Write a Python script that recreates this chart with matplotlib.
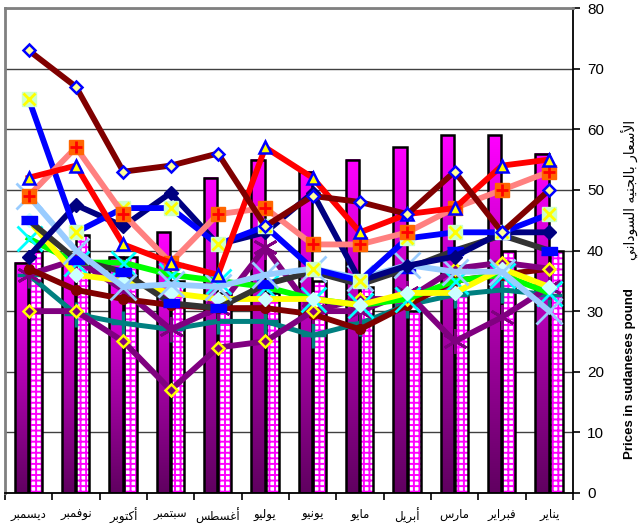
import numpy as np
import matplotlib
matplotlib.use('Agg')
import matplotlib.pyplot as plt
from matplotlib.colors import LinearSegmentedColormap

plt.rcParams['font.family'] = ['Liberation Sans', 'DejaVu Sans']
plt.rcParams['hatch.linewidth'] = 1.4

# ---------------- data (left to right as displayed) ----------------
months = ['ديسمبر', 'نوفمبر', 'أكتوبر', 'سبتمبر', 'أغسطس', 'يوليو',
          'يونيو', 'مايو', 'أبريل', 'مارس', 'فبراير', 'يناير']

bar_main = [38, 38.5, 39, 43, 52, 55, 53, 55, 57, 59, 59, 56]
bar_hatch = [40, 42.5, 39, 35, 33, 33, 35, 34, 30, 33, 40, 40]

s_maroon_diamond = [73, 67, 53, 54, 56, 44, 49, 48, 46, 53, 43, 50]
s_red_triangle = [52, 54, 41, 38, 36, 57, 52, 43, 46, 47, 54, 55]
s_salmon_plus = [49, 57, 46, 38, 46, 47, 41, 41, 43, 47, 50, 53]
s_blue_xsquare = [65, 43, 47, 47, 41, 44, 37, 35, 42, 43, 43, 46]
s_navy_diamond = [39, 47.5, 44, 49.5, 41, 43, 49.5, 35, 37.5, 39, 43, 43]
s_gray_rect = [45, 38.5, 36.5, 31.3, 30.5, 34.4, 36.5, 34.4, 37, 40, 42.5, 40]
s_green_cyanx = [42, 38, 38, 36, 35, 34, 32, 31, 32, 35, 36, 33]
s_yellow_diamond = [45, 36, 35, 33, 32, 32, 32, 31, 33, 33, 37, 34]
s_lightblue_x = [49, 40, 34, 34.4, 34, 36, 37, 35.4, 37.6, 36.5, 36.5, 30]
s_purple_star = [36, 38.5, 33.5, 27, 30.5, 40.5, 30, 30, 33, 25, 29, 34]
s_purple_ydiamond = [30, 30, 25, 17, 24, 25, 30, 32, 32, 37, 38, 37]
s_teal_plus = [36, 29.5, 28, 27, 28.3, 28.3, 26, 28, 31, 32.7, 33.5, 32.7]
s_maroon_circle = [37, 33.5, 32, 31, 30.5, 30.5, 29.5, 27, 31, 35, 36, 37]

yticks = [0, 10, 20, 30, 40, 50, 60, 70, 80]
ylabel_en = 'Prices in sudaneses pound'
ylabel_ar = 'الأسعار بالجنيه السوداني'

# ---------------- Arabic shaping (matplotlib has no complex text layout) ----------------
_FORMS = {
    'ا': ('\uFE8D', '\uFE8E', None, None),
    'أ': ('\uFE83', '\uFE84', None, None),
    'ب': ('\uFE8F', '\uFE90', '\uFE91', '\uFE92'),
    'ت': ('\uFE95', '\uFE96', '\uFE97', '\uFE98'),
    'ج': ('\uFE9D', '\uFE9E', '\uFE9F', '\uFEA0'),
    'د': ('\uFEA9', '\uFEAA', None, None),
    'ر': ('\uFEAD', '\uFEAE', None, None),
    'س': ('\uFEB1', '\uFEB2', '\uFEB3', '\uFEB4'),
    'ط': ('\uFEC1', '\uFEC2', '\uFEC3', '\uFEC4'),
    'ع': ('\uFEC9', '\uFECA', '\uFECB', '\uFECC'),
    'غ': ('\uFECD', '\uFECE', '\uFECF', '\uFED0'),
    'ف': ('\uFED1', '\uFED2', '\uFED3', '\uFED4'),
    'ك': ('\uFED9', '\uFEDA', '\uFEDB', '\uFEDC'),
    'ل': ('\uFEDD', '\uFEDE', '\uFEDF', '\uFEE0'),
    'م': ('\uFEE1', '\uFEE2', '\uFEE3', '\uFEE4'),
    'ن': ('\uFEE5', '\uFEE6', '\uFEE7', '\uFEE8'),
    'ه': ('\uFEE9', '\uFEEA', '\uFEEB', '\uFEEC'),
    'و': ('\uFEED', '\uFEEE', None, None),
    'ي': ('\uFEF1', '\uFEF2', '\uFEF3', '\uFEF4'),
}
_LA = {'ا': ('\uFEFB', '\uFEFC'), 'أ': ('\uFEF7', '\uFEF8')}


def shape_ar(text):
    words = []
    for word in text.split(' '):
        toks = []
        i = 0
        while i < len(word):
            c = word[i]
            if c == 'ل' and i + 1 < len(word) and word[i + 1] in _LA:
                toks.append(('LA', word[i + 1]))
                i += 2
            else:
                toks.append(('C', c))
                i += 1

        def dual(t):
            return t[0] == 'C' and t[1] in _FORMS and _FORMS[t[1]][2] is not None

        res = []
        for j, t in enumerate(toks):
            prev = j > 0 and dual(toks[j - 1])
            if t[0] == 'LA':
                res.append(_LA[t[1]][1 if prev else 0])
                continue
            f = _FORMS.get(t[1])
            if f is None:
                res.append(t[1])
                continue
            nxt = f[2] is not None and j + 1 < len(toks)
            if prev and nxt:
                res.append(f[3])
            elif prev:
                res.append(f[1])
            elif nxt:
                res.append(f[2])
            else:
                res.append(f[0])
        words.append(''.join(res))
    return ' '.join(words)[::-1]


# ---------------- figure ----------------
fig = plt.figure(figsize=(6.4, 5.28), dpi=100)
fig.patch.set_facecolor('white')
ax = fig.add_axes([5 / 640, 1 - 493 / 528, 568 / 640, 485 / 528])

x = np.arange(len(months))
bw = 0.28

# gradient bars
cmap = LinearSegmentedColormap.from_list('mg', ['#600060', '#B000B0', '#FF00FF'])
grad = np.linspace(0, 1, 256).reshape(-1, 1)
for xi, h in zip(x, bar_main):
    x0 = xi - 0.155 - bw / 2
    ax.imshow(grad, extent=[x0, x0 + bw, 0, h], origin='lower', aspect='auto',
              cmap=cmap, zorder=2.5, interpolation='bilinear')
ax.bar(x - 0.155, bar_main, bw, fill=False, edgecolor='black', linewidth=1.8, zorder=3)

# hatched bars
ax.bar(x + 0.145, bar_hatch, bw, facecolor='white', edgecolor='#FF00FF',
       hatch='+++', linewidth=0, zorder=2.5)
ax.bar(x + 0.145, bar_hatch, bw, fill=False, edgecolor='black', linewidth=1.8, zorder=3)

LW = 4.2
z = 4
# lines (bottom to top)
ax.plot(x, s_teal_plus, color='#008080', lw=3.6, marker='+', ms=18, mew=2.5,
        mec='#008080', zorder=z); z += 0.1
ax.plot(x, s_purple_star, color='#800080', lw=LW, marker=(6, 2, 0), ms=18, mew=2,
        mec='#800080', zorder=z); z += 0.1
ax.plot(x, s_maroon_circle, color='#800000', lw=LW, marker='o', ms=7,
        mfc='#800000', mec='#800000', zorder=z); z += 0.1
ax.plot(x, s_purple_ydiamond, color='#800080', lw=LW, marker='D', ms=6.5,
        mfc='#800080', mec='#FFFF00', mew=1.8, zorder=z); z += 0.1
ax.plot(x, s_green_cyanx, color='#00FF00', lw=LW, zorder=z); z += 0.1
ax.plot(x, s_green_cyanx, ls='none', marker='x', ms=18, mew=2, mec='#00FFFF',
        zorder=z); z += 0.1
ax.plot(x, s_yellow_diamond, color='#FFFF00', lw=LW, marker='D', ms=7,
        mfc='#CCFFFF', mec='#CCFFFF', zorder=z); z += 0.1
ax.plot(x, s_gray_rect, color='#333333', lw=LW, marker=[(-1, -0.5), (1, -0.5), (1, 0.5), (-1, 0.5)],
        ms=11, mfc='#0000FF', mec='#0000FF', zorder=z); z += 0.1
ax.plot(x, s_lightblue_x, color='#99CCFF', lw=LW, zorder=z); z += 0.1
ax.plot(x, s_lightblue_x, ls='none', marker='x', ms=19, mew=2, mec='#99CCFF',
        zorder=z); z += 0.1
ax.plot(x, s_navy_diamond, color='#000080', lw=LW, marker='D', ms=7,
        mfc='#000080', mec='#000080', zorder=z); z += 0.1
ax.plot(x, s_blue_xsquare, color='#0000FF', lw=LW, marker='s', ms=10,
        mfc='#CCFFCC', mec='#CCFFCC', zorder=z); z += 0.1
ax.plot(x, s_blue_xsquare, ls='none', marker='x', ms=8, mew=2, mec='#FFFF00',
        zorder=z); z += 0.1
ax.plot(x, s_salmon_plus, color='#FF8080', lw=LW, marker='s', ms=10,
        mfc='#FF6600', mec='#FF6600', zorder=z); z += 0.1
ax.plot(x, s_salmon_plus, ls='none', marker='+', ms=9, mew=2, mec='#FF0000',
        zorder=z); z += 0.1
ax.plot(x, s_red_triangle, color='#FF0000', lw=LW, marker='^', ms=8.5,
        mfc='#FFFF00', mec='#0000FF', mew=1.8, zorder=z); z += 0.1
ax.plot(x, s_maroon_diamond, color='#800000', lw=LW, marker='D', ms=6,
        mfc='#FFFF99', mec='#0000FF', mew=1.8, zorder=z); z += 0.1

# axes
ax.set_xlim(-0.5, len(months) - 0.5)
ax.set_ylim(0, 80)
ax.set_facecolor('white')
ax.set_axisbelow(True)
ax.yaxis.grid(True, color='#404040', linewidth=1.0, zorder=0)

ax.yaxis.tick_right()
ax.set_yticks(yticks)
ax.set_yticklabels([str(v) for v in yticks], fontsize=11)
ax.tick_params(axis='y', direction='out', length=5, width=1.2, pad=5, colors='black')

ax.set_xticks(np.arange(-0.5, len(months), 1))
ax.set_xticklabels([])
ax.set_xticks(x, minor=True)
ax.set_xticklabels([shape_ar(m) for m in months], minor=True, fontsize=8.5,
                   family=['DejaVu Sans'])
ax.tick_params(axis='x', which='major', direction='out', length=5, width=1.2)
ax.tick_params(axis='x', which='minor', length=0, pad=11)

for side in ['left', 'top']:
    ax.spines[side].set_color('#808080')
    ax.spines[side].set_linewidth(2)
for side in ['right', 'bottom']:
    ax.spines[side].set_color('black')
    ax.spines[side].set_linewidth(1.3)

fig.text(630 / 640, 1 - 374 / 528, ylabel_en, rotation=90, fontsize=9.5,
         fontweight='bold', ha='center', va='center')
fig.text(629 / 640, 1 - 190 / 528, shape_ar(ylabel_ar), rotation=90, fontsize=10,
         ha='center', va='center', family=['DejaVu Sans'])

fig.savefig('out.png', dpi=100, facecolor='white')
